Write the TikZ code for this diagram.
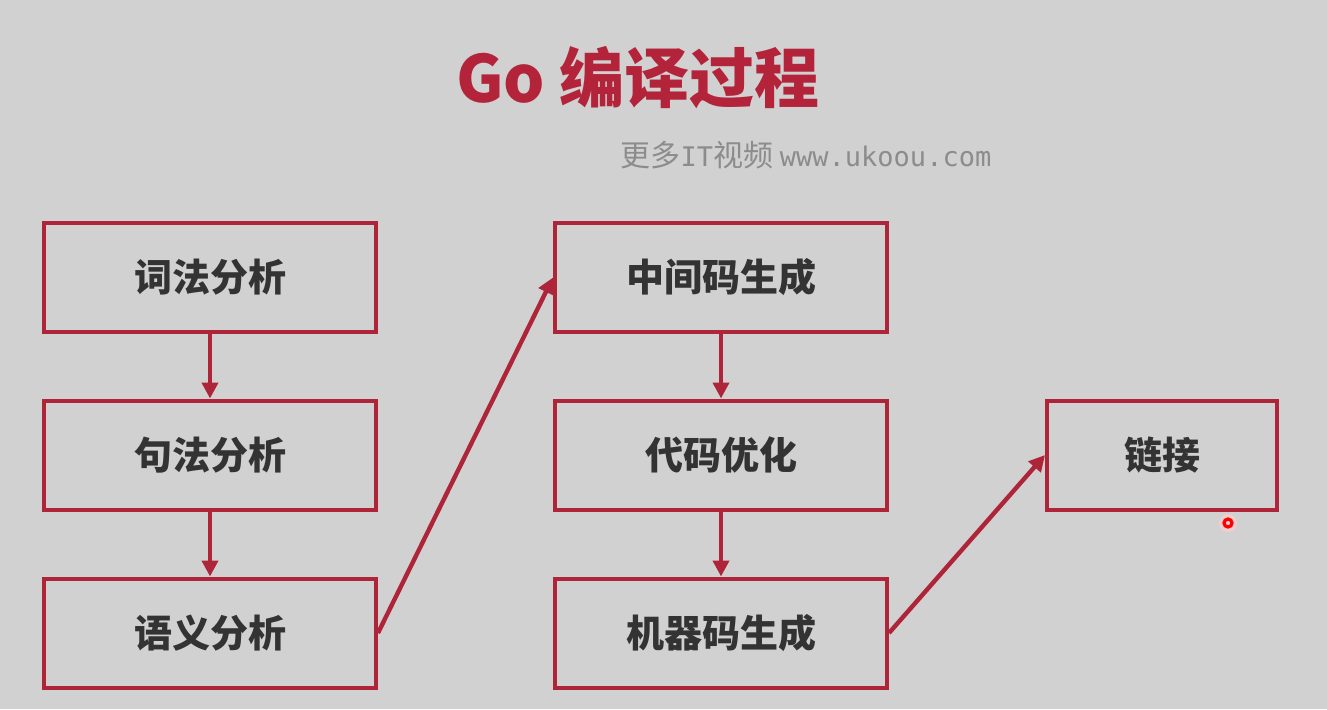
\documentclass[tikz,border=0pt]{standalone}
\usepackage{fontspec}
\usepackage{xcolor}
\usetikzlibrary{arrows.meta}
\newfontfamily\cjk{Noto Sans CJK SC}
\newfontfamily\wmmono{DejaVu Sans Mono}
\definecolor{bgGray}{HTML}{D1D1D1}
\definecolor{stepRed}{HTML}{AE2539}
\definecolor{titleRed}{HTML}{B3243A}
\definecolor{textGray}{HTML}{333333}
\definecolor{markGray}{HTML}{8C8C8C}

\tikzset{
  stage/.style={draw=stepRed, line width=2pt, minimum width=166pt, minimum height=54.5pt,
    inner sep=0pt, text=textGray, font=\cjk\bfseries\fontsize{19pt}{21pt}\selectfont},
  flow/.style={draw=stepRed, line width=2.2pt, -{Triangle[length=8pt,width=8pt]}}
}

\begin{document}
\begin{tikzpicture}[x=0.5pt, y=-0.5pt]
% Background
\fill[bgGray] (0,0) rectangle (1327,709);
\useasboundingbox (0,0) rectangle (1327,709);

% Title and watermark
\node[text=titleRed, font=\cjk\bfseries\fontsize{32.5pt}{35pt}\selectfont] (title) at (638,78) {Go 编译过程};
\node[text=markGray, font=\cjk\fontsize{15pt}{17pt}\selectfont] (mark) at (806,155)
  {更多{\wmmono\fontsize{13.5pt}{16pt}\selectfont IT}视频 {\wmmono\fontsize{13.5pt}{16pt}\selectfont www.ukoou.com}};

% Front end
\node[stage] (lex) at (210,277.5) {词法分析};
\node[stage] (syn) at (210,455) {句法分析};
\node[stage] (sem) at (210,633) {语义分析};

% Back end
\node[stage] (ir) at (721,277.5) {中间码生成};
\node[stage] (opt) at (721,455) {代码优化};
\node[stage] (gen) at (721,633) {机器码生成};

% Linking
\node[stage, minimum width=115pt] (link) at (1162,455) {链接};

% Connectors
\draw[flow] (lex) -- (syn);
\draw[flow] (syn) -- (sem);
\draw[flow] (sem.east) -- (ir.west);
\draw[flow] (ir) -- (opt);
\draw[flow] (opt) -- (gen);
\draw[flow] (gen.east) -- (link.west);

% Pointer mark
\fill[red!20, opacity=0.7] (1228,523) circle (9);
\draw[red, line width=1.6pt] (1228,523) circle (4);
\end{tikzpicture}
\end{document}
